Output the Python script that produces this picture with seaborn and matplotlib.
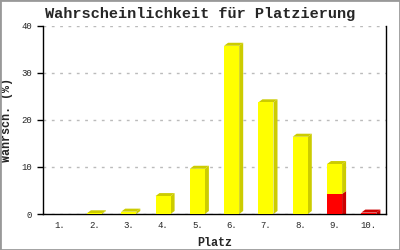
import matplotlib
matplotlib.use("Agg")
import matplotlib.pyplot as plt
import seaborn as sns
import pandas as pd
from matplotlib.patches import Polygon, Rectangle

places = ["1.", "2.", "3.", "4.", "5.", "6.", "7.", "8.", "9.", "10."]
yellow_part = [0.0, 0.15, 0.5, 3.8, 9.6, 35.7, 23.7, 16.4, 6.35, 0.0]
red_part = [0.0, 0.0, 0.0, 0.0, 0.0, 0.0, 0.0, 0.0, 4.25, 0.3]
yticks = [0, 10, 20, 30, 40]

totals = [y + r for y, r in zip(yellow_part, red_part)]
df = pd.DataFrame({"Platz": places, "total": totals, "red": red_part})

sns.set_theme(style="white")
plt.rcParams['font.family'] = ['Liberation Mono', 'DejaVu Sans Mono']

fig = plt.figure(figsize=(4, 2.5), dpi=100)
ax = fig.add_axes([43/400, 1-214/250, (386-43)/400, (214-25.5)/250])

YEL, YEL_D = "#FFFF00", "#CCCC00"
RED, RED_D = "#FF0000", "#CC0000"

sns.barplot(data=df, x="Platz", y="total", color=YEL, saturation=1, width=0.44,
            linewidth=0, ax=ax, zorder=3)
n_y = len(ax.patches)
sns.barplot(data=df, x="Platz", y="red", color=RED, saturation=1, width=0.44,
            linewidth=0, ax=ax, zorder=4)
ybars = ax.patches[:n_y]
rbars = ax.patches[n_y:]

ax.set_xlim(-0.5, 9.5)
ax.set_ylim(0, 40)

# depth offset in data units (4px right, 3px up)
inv = ax.transData.inverted()
p0 = inv.transform(ax.transData.transform((0, 0)))
p1 = inv.transform(ax.transData.transform((0, 0)) + [4, 3])
dx, dy = p1 - p0

for yb, rb in zip(ybars, rbars):
    x0 = yb.get_x(); x1 = x0 + yb.get_width()
    tot = yb.get_height(); rh = rb.get_height()
    if tot <= 0:
        continue
    if rh > 0:
        ax.add_patch(Polygon([(x1, 0), (x1, rh), (x1 + dx, rh + dy), (x1 + dx, 0)],
                             closed=True, facecolor=RED_D, edgecolor="none", zorder=2.5))
    if tot > rh:
        ax.add_patch(Polygon([(x1, rh), (x1, tot), (x1 + dx, tot + dy), (x1 + dx, rh + dy)],
                             closed=True, facecolor=YEL_D, edgecolor="none", zorder=2.5))
    topc = YEL_D if tot > rh else RED_D
    ax.add_patch(Polygon([(x0, tot), (x1, tot), (x1 + dx, tot + dy), (x0 + dx, tot + dy)],
                         closed=True, facecolor=topc, edgecolor="none", zorder=2.5))

ax.set_yticks(yticks)
ax.set_yticklabels([str(v) for v in yticks], fontsize=6.5)
ax.tick_params(axis="y", length=4, width=1, color="black", pad=4, left=True)
ax.tick_params(axis="x", length=0, pad=5, labelsize=6.5)
ax.yaxis.grid(True, linestyle=(0, (2, 4)), color="#BBBBBB", linewidth=1, zorder=0)
ax.set_axisbelow(True)

for s in ["left", "bottom", "right"]:
    ax.spines[s].set_visible(True)
    ax.spines[s].set_color("black")
    ax.spines[s].set_linewidth(1)
ax.spines["top"].set_visible(False)

ax.set_xlabel("Platz", fontsize=8.5, fontweight="bold", labelpad=5)
ax.set_ylabel("Wahrsch. (%)", fontsize=8.5, fontweight="bold")
ax.yaxis.set_label_coords((13 - 43) / 343, 0.5)
fig.text(0.5, 1 - 14/250, "Wahrscheinlichkeit für Platzierung", ha="center", va="center",
         fontsize=11, fontweight="bold")

fig.patches.append(Rectangle((0, 0), 1, 1, transform=fig.transFigure, fill=False,
                             edgecolor="#999999", linewidth=2))

fig.savefig("out.png", dpi=100, facecolor="white")
